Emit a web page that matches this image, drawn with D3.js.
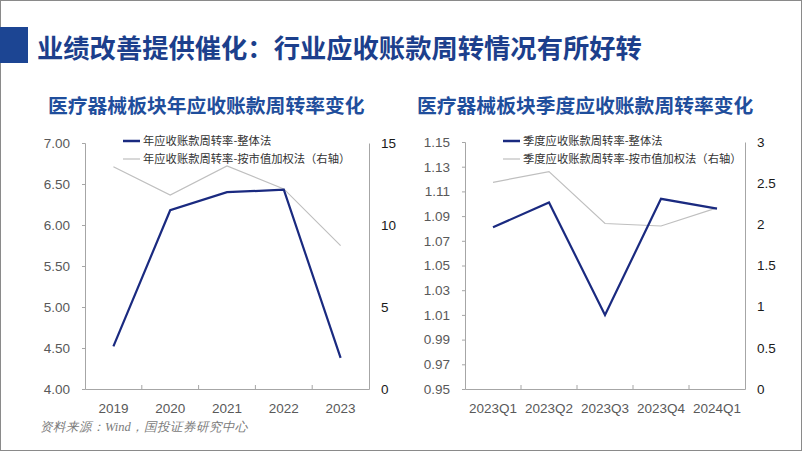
<!DOCTYPE html>
<html><head><meta charset="utf-8">
<script src="https://cdn.jsdelivr.net/npm/d3@7"></script>
<style>body{margin:0;background:#fff}svg{display:block}</style>
</head><body>
<svg id="c" width="802" height="451"></svg>
<script>
const pageTitle = "业绩改善提供催化：行业应收账款周转情况有所好转";
const source = "资料来源：Wind，国投证券研究中心";

const yearTitle = "医疗器械板块年应收账款周转率变化";
const yearCats = ["2019","2020","2021","2022","2023"];
const yearOverall = [4.52, 6.18, 6.40, 6.43, 4.38];
const yearWeighted = [13.55, 11.83, 13.6, 12.2, 8.74];
const yearLeftTicks = [4.00, 4.50, 5.00, 5.50, 6.00, 6.50, 7.00];
const yearRightTicks = [0, 5, 10, 15];
const yearLegend = ["年应收账款周转率-整体法", "年应收账款周转率-按市值加权法（右轴）"];

const qTitle = "医疗器械板块季度应收账款周转率变化";
const qCats = ["2023Q1","2023Q2","2023Q3","2023Q4","2024Q1"];
const qOverall = [1.081, 1.101, 1.010, 1.104, 1.096];
const qWeighted = [2.51, 2.64, 2.01, 1.98, 2.20];
const qLeftTicks = [0.95, 0.97, 0.99, 1.01, 1.03, 1.05, 1.07, 1.09, 1.11, 1.13, 1.15];
const qRightTicks = [0, 0.5, 1, 1.5, 2, 2.5, 3];
const qLegend = ["季度应收账款周转率-整体法", "季度应收账款周转率-按市值加权法（右轴）"];

const svg = d3.select("#c");
const CJK = "'Noto Sans CJK SC', sans-serif";
const NUM = "'Liberation Sans', Arial, sans-serif";

svg.append("rect").attr("x",0.5).attr("y",0.5).attr("width",801).attr("height",450)
  .attr("fill","#fff").attr("stroke","#8a8a8a");
svg.append("rect").attr("x",0).attr("y",27).attr("width",28).attr("height",36).attr("fill","#1c4593");
svg.append("text").attr("x",37).attr("y",58).attr("font-family",CJK).attr("font-size",26.3)
  .attr("font-weight",700).attr("fill","#1c3f8c").text(pageTitle);
svg.append("text").attr("x",40).attr("y",431).attr("font-family","'Liberation Serif', serif")
  .attr("font-style","italic").attr("font-size",12.5).attr("fill","#7a7a7a").text(source);

function chart(o){
  const g = svg.append("g");
  const x = d3.scaleBand().domain(o.cats).range([o.x0,o.x1]).padding(0);
  const yl = d3.scaleLinear().domain([o.lt[0], o.lt[o.lt.length-1]]).range([o.yb,o.yt]);
  const yr = d3.scaleLinear().domain([o.rt[0], o.rt[o.rt.length-1]]).range([o.yb,o.yt]);
  g.append("text").attr("x",o.tx).attr("y",113).attr("font-family",CJK).attr("font-size",19.8)
    .attr("font-weight",700).attr("fill","#1f4e9c").text(o.title);
  const axc = "#a6a6a6";
  const la = g.append("g").attr("transform",`translate(${o.x0},0)`)
    .call(d3.axisLeft(yl).tickValues(o.lt).tickFormat(d3.format(o.lf)).tickSize(3).tickPadding(12));
  la.select(".domain").attr("stroke",axc);
  la.selectAll(".tick line").attr("stroke",axc);
  la.selectAll("text").attr("font-family",NUM).attr("font-size",13.5).attr("fill","#595959");
  const ra = g.append("g").attr("transform",`translate(${o.x1},0)`)
    .call(d3.axisRight(yr).tickValues(o.rt).tickFormat(d=>String(d)).tickSize(0).tickPadding(12));
  ra.select(".domain").attr("stroke",axc);
  ra.selectAll("text").attr("font-family",NUM).attr("font-size",13.5).attr("fill","#1a1a1a");
  const ba = g.append("g").attr("transform",`translate(0,${o.yb})`)
    .call(d3.axisBottom(x).tickSize(0).tickPadding(14));
  ba.select(".domain").attr("stroke",axc);
  ba.selectAll("text").attr("font-family",NUM).attr("font-size",13.5).attr("fill","#595959");
  g.selectAll(".bt").data(o.cats.slice(1)).join("line")
    .attr("x1",d=>x(d)).attr("x2",d=>x(d)).attr("y1",o.yb).attr("y2",o.yb-4).attr("stroke",axc);
  const cx = d => x(d)+x.bandwidth()/2;
  g.append("path").datum(o.w).attr("fill","none").attr("stroke","#bfbfbf").attr("stroke-width",1.2)
    .attr("d", d3.line().x((d,i)=>cx(o.cats[i])).y(d=>yr(d)));
  g.append("path").datum(o.v).attr("fill","none").attr("stroke","#1a2a80").attr("stroke-width",2.2)
    .attr("d", d3.line().x((d,i)=>cx(o.cats[i])).y(d=>yl(d)));
  const lg = g.append("g");
  [[o.leg[0],"#1a2a80",2.5,141],[o.leg[1],"#bfbfbf",1.2,159]].forEach(([t,c,w,yy])=>{
    lg.append("line").attr("x1",o.lx).attr("x2",o.lx+17).attr("y1",yy).attr("y2",yy)
      .attr("stroke",c).attr("stroke-width",w);
    lg.append("text").attr("x",o.lx+20).attr("y",yy+4).attr("font-family",CJK)
      .attr("font-size",11.3).attr("fill","#333").text(t);
  });
}

chart({title:yearTitle,tx:48,cats:yearCats,v:yearOverall,w:yearWeighted,lt:yearLeftTicks,rt:yearRightTicks,
  lf:".2f",x0:85,x1:369,yt:143,yb:389,lx:123,leg:yearLegend});
chart({title:qTitle,tx:417,cats:qCats,v:qOverall,w:qWeighted,lt:qLeftTicks,rt:qRightTicks,
  lf:".2f",x0:465,x1:745,yt:142,yb:389,lx:503,leg:qLegend});
</script>
</body></html>
